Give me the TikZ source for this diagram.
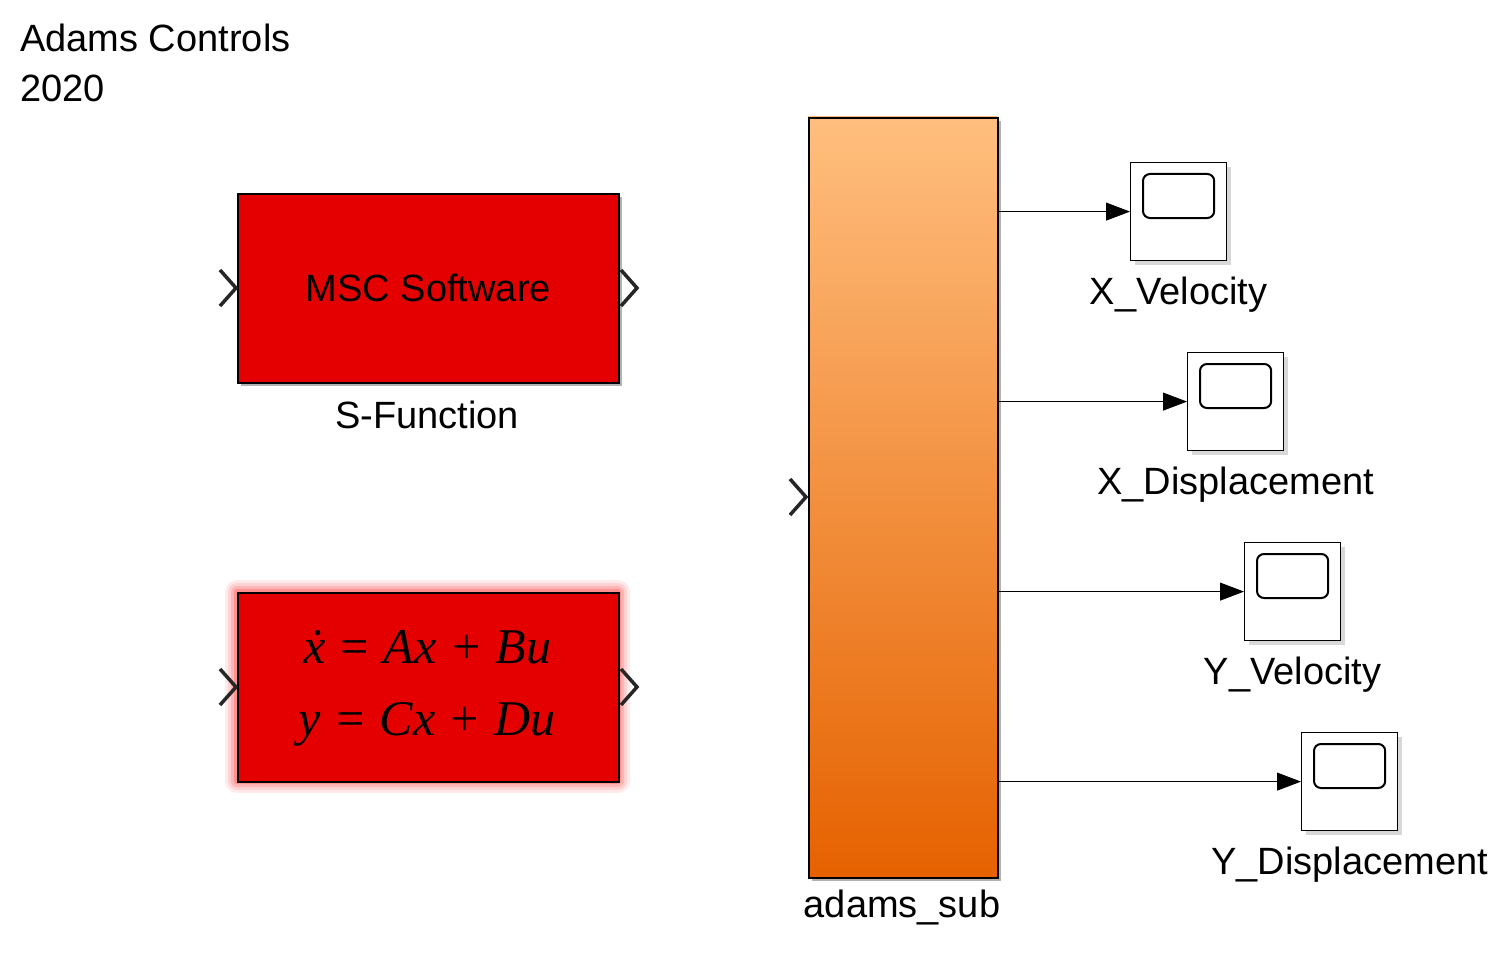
\documentclass[tikz,border=0pt]{standalone}
\usepackage{fontspec}
\setmainfont{Liberation Sans}
\newfontfamily\eqfont{Liberation Serif}
\usetikzlibrary{arrows.meta,shadows}
\begin{document}
\begin{tikzpicture}[x=1pt,y=-1pt,
  lbl/.style={font=\fontsize{38}{42}\selectfont, inner sep=0},
  redblk/.style={draw=black, line width=1.8pt, fill=red!90!black, minimum width=381pt, minimum height=189pt, anchor=north west},
  scope/.style={draw=black, line width=1.2pt, fill=white, minimum width=96pt, minimum height=98pt, anchor=north west, drop shadow={shadow xshift=4pt,shadow yshift=-4pt,fill=gray!60}},
  chev/.style={line width=3.5pt, draw=black!85},
  sig/.style={line width=0.8pt, -{Triangle[length=24pt,width=18pt]}}]
\useasboundingbox (0,0) rectangle (1497,955);
\node[lbl, anchor=north west, align=left, font=\fontsize{38}{50}\selectfont] (title) at (20,24) {Adams Controls\\2020};
% S-function
\fill[gray!60] (241,197) rectangle (622,386);
\node[redblk] (sf) at (237,193) {};
\node[lbl] (sft) at (sf.center) {MSC Software};
\node[lbl] (sfl) at (427,415) {S-Function};
\draw[chev] (220,270) -- (236,288) -- (220,306);
\draw[chev] (621,270) -- (637,288) -- (621,306);
% state space with glow
\foreach \g/\o in {12/0.08,9/0.1,6/0.14,3/0.2}{
  \fill[red, opacity=\o, rounded corners=\g pt] (237-\g,592-\g) rectangle (618+\g,781+\g);
}
\node[redblk] (ss) at (237,592) {};
\node[font=\eqfont\fontsize{50}{72}\selectfont\itshape, align=center, inner sep=0] (sst) at (427,688) {\.x = Ax + Bu\\ y = Cx + Du};
\draw[chev] (220,669) -- (236,687) -- (220,705);
\draw[chev] (621,669) -- (637,687) -- (621,705);
% adams_sub
\fill[gray!60] (812,121) rectangle (1001,881);
\shade[top color=orange!45!white!90!orange, bottom color=orange!85!red!90!black] (808,117) rectangle (997,877);
\node[draw=black, line width=1.8pt, minimum width=189pt, minimum height=760pt, anchor=north west] (as) at (808,117) {};
\node[lbl] (asl) at (902,908) {adams\_sub};
\draw[chev] (790,479) -- (806,497) -- (790,515);
% scopes
\foreach \n/\x/\y/\t in {a/1130/162/X\_Velocity, b/1187/352/X\_Displacement, c/1244/542/Y\_Velocity, d/1301/732/Y\_Displacement}{
  \node[scope] (s\n) at (\x,\y) {};
  \draw[line width=2pt, rounded corners=7pt] ([xshift=13pt,yshift=-12pt]s\n.north west) rectangle ([xshift=-13pt,yshift=-56pt]s\n.north east);
  \node[lbl] (l\n) at ([yshift=-33pt]s\n.south) {\t};
  \coordinate (o\n) at (as.east |- s\n.west);
  \draw[sig] (o\n) -- (s\n.west);
}
\end{tikzpicture}
\end{document}
